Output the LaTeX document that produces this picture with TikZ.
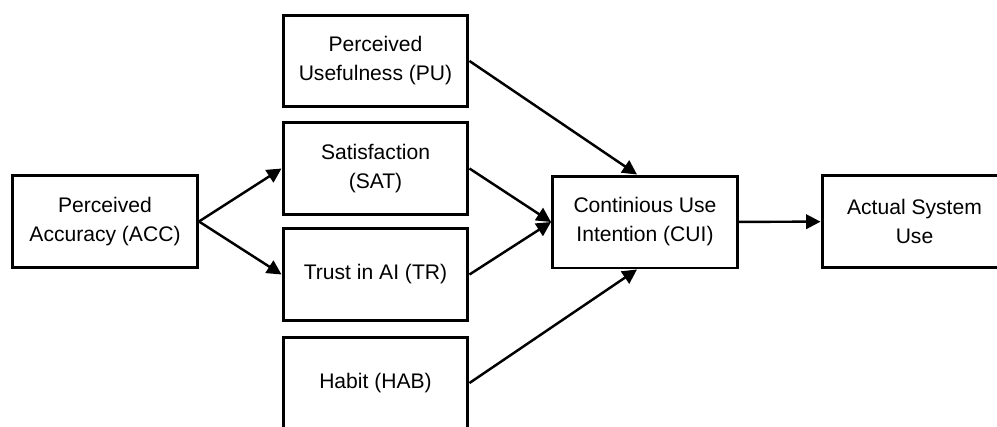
\documentclass[tikz,border=0pt]{standalone}
\usepackage{fontspec}
\setmainfont{Liberation Sans}
\usepackage{tikz}
\usetikzlibrary{positioning,arrows.meta,calc}

\begin{document}
\begin{tikzpicture}[
  x=0.02cm, y=-0.02cm,
  construct/.style={draw, line width=1.7pt, fill=white, align=center,
                    minimum width=3.7cm, minimum height=1.84cm, inner sep=2pt,
                    font=\fontsize{12}{16.5}\selectfont},
  arr/.style={-{Triangle[length=2.9mm, width=2.9mm]}, line width=1.4pt},
]
\useasboundingbox (0,0) rectangle (997,426);

% antecedent
\node[construct] (acc) at (105,221.5) {Perceived\\Accuracy (ACC)};

% middle column
\node[construct] (pu)  at (375.5,61)    {Perceived\\Usefulness (PU)};
\node[construct] (sat) at (375.5,168.5) {Satisfaction\\(SAT)};
\node[construct] (tr)  at (375.5,274.5) {Trust in AI (TR)};
\node[construct] (hab) at (375.5,383)   {Habit (HAB)};

% outcomes
\node[construct] (cui) at (645,222)   {Continious Use\\Intention (CUI)};
\node[construct] (asu) at (914.5,221.5) {Actual System\\Use};

\draw[arr] (acc.east) -- (sat.west);
\draw[arr] (acc.east) -- (tr.west);
\draw[arr] (pu.east) -- ($(cui.north)+(-8,0)$);
\draw[arr] (sat.east) -- (cui.west);
\draw[arr] (tr.east) -- (cui.west);
\draw[arr] (hab.east) -- ($(cui.south)+(-8,0)$);
\draw[arr] (cui) -- (asu);
\end{tikzpicture}
\end{document}
